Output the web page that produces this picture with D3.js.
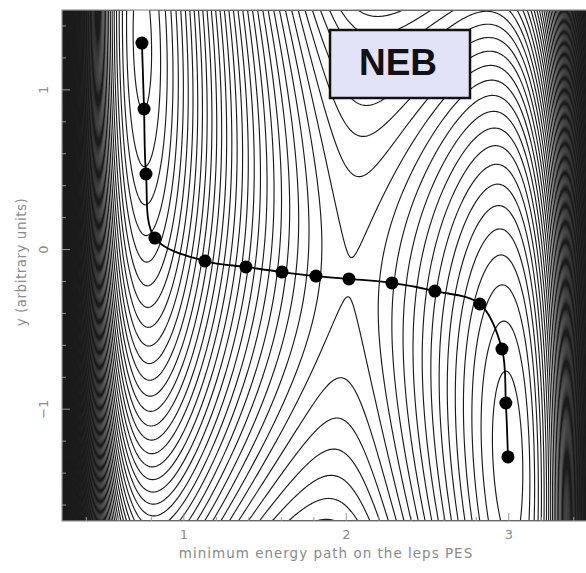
<!DOCTYPE html>
<html>
<head>
<meta charset="UTF-8"/>
<script src="https://d3js.org/d3.v7.min.js"></script>
<style>
  body { margin: 0; background: #fff; }
  svg { display: block; }
  .tick-label { font-family: "DejaVu Sans", sans-serif; font-size: 13px; fill: #8a8a8a; }
  .axis-title { font-family: "DejaVu Sans", sans-serif; font-size: 13.5px; fill: #8a8a8a; }
</style>
</head>
<body>
<div id="chart"></div>
<script>
// plot window (data units)
var xDomain = [0.25, 3.5],
    yDomain = [-1.7, 1.5];

// tick values
var xTicks = [1, 2, 3],
    yTicks = [-1, 0, 1],
    xMinorStep = 0.2,
    yMinorStep = 0.2;

// NEB images
var beadX = [0.742, 0.755, 0.767, 0.822, 1.130, 1.382, 1.604, 1.813, 2.016, 2.281, 2.545, 2.822, 2.958, 2.982, 2.995];
var beadY = [1.293, 0.880, 0.473, 0.072, -0.072, -0.109, -0.141, -0.166, -0.184, -0.209, -0.260, -0.341, -0.623, -0.961, -1.299];

// LEPS + harmonic oscillator parameters
var leps = {a: 0.05, b: 0.80, c: 0.05, dAB: 4.746, dBC: 4.746, dAC: 3.445, r0: 0.742, alpha: 1.942};
var rAC = 3.742, kc = 0.2025, cOsc = 1.154;
var contourStep = 0.128,
    saddleOffset = 0.005;   // one contour level sits just above the saddle

var W = 586, H = 573;
var mLeft = 62, mTop = 10, plotW = 528, plotH = 511;

var x = d3.scaleLinear().domain(xDomain).range([mLeft, mLeft + plotW]);
var y = d3.scaleLinear().domain(yDomain).range([mTop + plotH, mTop]);

function Q(d, r) {
    var e = Math.exp(-leps.alpha * (r - leps.r0));
    return d / 2 * (1.5 * e * e - e);
}
function J(d, r) {
    var e = Math.exp(-leps.alpha * (r - leps.r0));
    return d / 4 * (e * e - 6 * e);
}
function Vleps(rAB, rBC) {
    var rac = rAB + rBC;
    var a1 = 1 + leps.a, b1 = 1 + leps.b, c1 = 1 + leps.c;
    var jab = J(leps.dAB, rAB), jbc = J(leps.dBC, rBC), jac = J(leps.dAC, rac);
    return Q(leps.dAB, rAB) / a1 + Q(leps.dBC, rBC) / b1 + Q(leps.dAC, rac) / c1
        - Math.sqrt(jab * jab / (a1 * a1) + jbc * jbc / (b1 * b1) + jac * jac / (c1 * c1)
            - jab * jbc / (a1 * b1) - jbc * jac / (b1 * c1) - jab * jac / (a1 * c1));
}
function V(r, yy) {
    var d = r - (rAC / 2 - yy / cOsc);
    return Vleps(r, rAC - r) + 2 * kc * d * d;
}

// sample the surface on a grid
var nx = 530, ny = 512;
var values = new Float64Array(nx * ny);
for (var j = 0; j < ny; j++) {
    var yy = yDomain[1] - (j + 0.5) * (yDomain[1] - yDomain[0]) / ny;
    for (var i = 0; i < nx; i++) {
        var xx = xDomain[0] + (i + 0.5) * (xDomain[1] - xDomain[0]) / nx;
        values[i + j * nx] = V(xx, yy);
    }
}

// saddle energy: highest point of the valley floor between the two minima
var vSaddle = -Infinity;
for (var sx = 1.3; sx <= 2.7; sx += 0.004) {
    var m = Infinity;
    for (var sy = -0.9; sy <= 0.7; sy += 0.004) m = Math.min(m, V(sx, sy));
    vSaddle = Math.max(vSaddle, m);
}

var vmin = d3.min(values), vmax = Math.min(d3.max(values), vmin + 60);
var base = vSaddle + saddleOffset;
var kLo = Math.ceil((vmin - base) / contourStep), kHi = Math.floor((vmax - base) / contourStep);
var thresholds = d3.range(kLo, kHi + 1).map(function(k) { return base + k * contourStep; });

var contours = d3.contours().size([nx, ny]).thresholds(thresholds)(values);

var proj = d3.geoTransform({
    point: function(px, py) {
        this.stream.point(mLeft + px * plotW / nx, mTop + py * plotH / ny);
    }
});
var path = d3.geoPath(proj);

var svg = d3.select("#chart").append("svg")
    .attr("width", W).attr("height", H);

svg.append("clipPath").attr("id", "clip")
    .append("rect").attr("x", mLeft).attr("y", mTop).attr("width", plotW).attr("height", plotH);

var g = svg.append("g").attr("clip-path", "url(#clip)");

g.selectAll("path.c")
    .data(contours)
    .enter().append("path")
    .attr("class", "c")
    .attr("d", path)
    .attr("fill", "none")
    .attr("stroke", "#1c1c1c")
    .attr("stroke-width", 1.15);

// frame
svg.append("rect")
    .attr("x", mLeft).attr("y", mTop).attr("width", plotW).attr("height", plotH)
    .attr("fill", "none").attr("stroke", "#999").attr("stroke-width", 1.2);

// minor + major ticks (inward)
var xt = d3.range(0.4, 3.5, xMinorStep);
svg.selectAll("line.xt").data(xt).enter().append("line")
    .attr("x1", function(d) { return x(d); }).attr("x2", function(d) { return x(d); })
    .attr("y1", mTop + plotH).attr("y2", function(d) {
        return mTop + plotH - (xTicks.some(function(t) { return Math.abs(t - d) < 1e-6; }) ? 8 : 4); })
    .attr("stroke", "#999");
var yt = d3.range(-1.6, 1.5, yMinorStep);
svg.selectAll("line.yt").data(yt).enter().append("line")
    .attr("y1", function(d) { return y(d); }).attr("y2", function(d) { return y(d); })
    .attr("x1", mLeft).attr("x2", function(d) {
        return mLeft + (yTicks.some(function(t) { return Math.abs(t - d) < 1e-6; }) ? 8 : 4); })
    .attr("stroke", "#999");

svg.selectAll("text.xl").data(xTicks).enter().append("text")
    .attr("class", "tick-label")
    .attr("x", function(d) { return x(d); })
    .attr("y", 539)
    .attr("text-anchor", "middle")
    .text(function(d) { return d; });

svg.selectAll("text.yl").data(yTicks).enter().append("text")
    .attr("class", "tick-label")
    .attr("transform", function(d) { return "translate(48," + y(d) + ") rotate(-90)"; })
    .attr("text-anchor", "middle")
    .text(function(d) { return d < 0 ? "\u2212" + Math.abs(d) : d; });

svg.append("text").attr("class", "axis-title")
    .attr("x", 326).attr("y", 558)
    .attr("text-anchor", "middle")
    .attr("letter-spacing", 1)
    .text("minimum energy path on the leps PES");

svg.append("text").attr("class", "axis-title")
    .attr("transform", "translate(26,262) rotate(-90)")
    .attr("text-anchor", "middle")
    .attr("letter-spacing", 0.5)
    .text("y (arbitrary units)");

// NEB path
var beads = beadX.map(function(d, i) { return [d, beadY[i]]; });
var line = d3.line()
    .x(function(d) { return x(d[0]); })
    .y(function(d) { return y(d[1]); })
    .curve(d3.curveCatmullRom.alpha(0.5));

g.append("path")
    .datum(beads)
    .attr("d", line)
    .attr("fill", "none")
    .attr("stroke", "#000")
    .attr("stroke-width", 1.8);

g.selectAll("circle.bead")
    .data(beads)
    .enter().append("circle")
    .attr("class", "bead")
    .attr("cx", function(d) { return x(d[0]); })
    .attr("cy", function(d) { return y(d[1]); })
    .attr("r", 6.5)
    .attr("fill", "#000");

// NEB label box
svg.append("rect")
    .attr("x", 330).attr("y", 30).attr("width", 140).attr("height", 68)
    .attr("fill", "#e2e2f8").attr("stroke", "#111").attr("stroke-width", 2.5);
svg.append("text")
    .attr("x", 398).attr("y", 75)
    .attr("text-anchor", "middle")
    .attr("font-family", "Liberation Sans, Arial, sans-serif")
    .attr("font-weight", "bold")
    .attr("font-size", 37)
    .attr("fill", "#111")
    .text("NEB");
</script>
</body>
</html>
